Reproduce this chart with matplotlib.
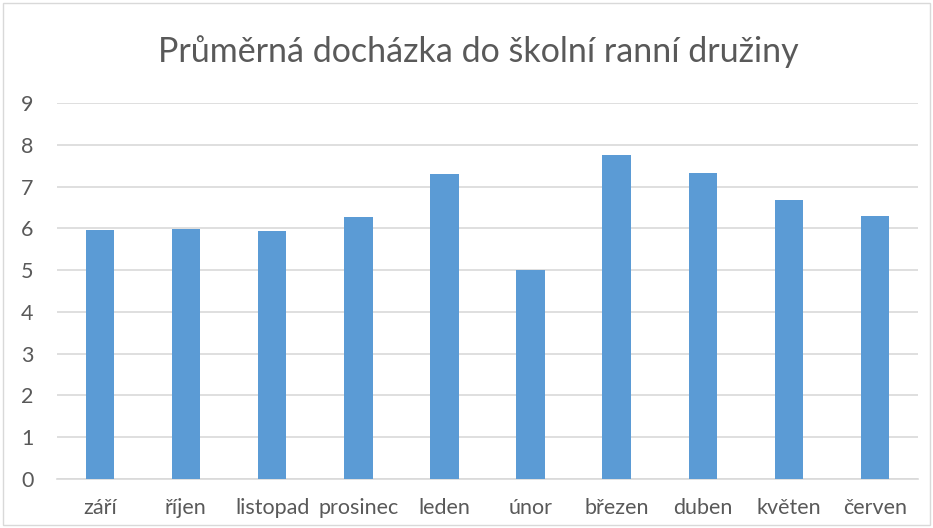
import matplotlib
matplotlib.use("Agg")
import matplotlib.pyplot as plt
from matplotlib.patches import Rectangle

months = ["září", "říjen", "listopad", "prosinec", "leden",
          "únor", "březen", "duben", "květen", "červen"]
attendance = [5.96, 5.99, 5.93, 6.26, 7.29, 5.0, 7.75, 7.32, 6.68, 6.30]
y_ticks = list(range(0, 10))

plt.rcParams["font.family"] = ["Lato", "DejaVu Sans"]
text_color = "#595959"

fig = plt.figure(figsize=(9.33, 5.28), dpi=100)
ax = fig.add_axes([57 / 933, 1 - 479 / 528, (918 - 57) / 933, (479 - 103) / 528])

x = range(len(months))
ax.bar(x, attendance, width=0.33, color="#5B9BD5", zorder=3)

ax.set_xlim(-0.5, len(months) - 0.5)
ax.set_ylim(0, 9)
ax.set_yticks(y_ticks)
ax.set_xticks(list(x))
ax.set_xticklabels(months)
ax.grid(axis="y", color="#D9D9D9", linewidth=1.2, zorder=0)
for side in ["top", "right", "left"]:
    ax.spines[side].set_visible(False)
ax.spines["bottom"].set_color("#D9D9D9")
ax.spines["bottom"].set_linewidth(1.2)
ax.tick_params(axis="both", length=0, labelsize=15.5, colors=text_color)
ax.tick_params(axis="x", pad=14)
ax.tick_params(axis="y", pad=17)

fig.suptitle("Průměrná docházka do školní ranní družiny", x=478 / 933, y=1 - 52 / 528,
             va="center", fontsize=24.5, color=text_color)

fig.patches.append(Rectangle((0.003, 0.005), 0.994, 0.99, transform=fig.transFigure,
                             fill=False, edgecolor="#D9D9D9", linewidth=1))

fig.savefig("out.png", dpi=100)
